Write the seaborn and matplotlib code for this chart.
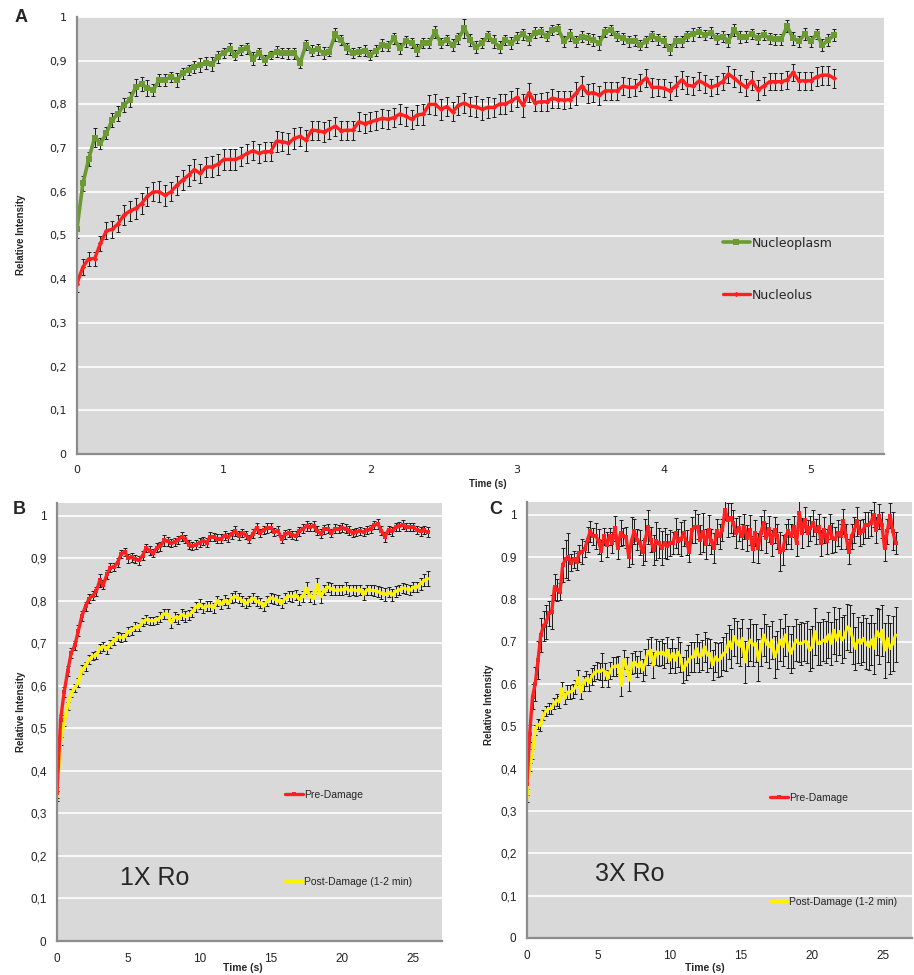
import numpy as np
import matplotlib
matplotlib.use("Agg")
import matplotlib.pyplot as plt
import seaborn as sns

# ---------------- data ----------------
# Panel A: FRAP nucleoplasm / nucleolus, 130 samples from 0 to 5.16 s
a_t_end = 5.16
a_nucleoplasm = [
    0.516, 0.619, 0.675, 0.724, 0.711, 0.734, 0.764, 0.779, 0.798, 0.811,
    0.839, 0.847, 0.837, 0.833, 0.856, 0.856, 0.863, 0.856, 0.871, 0.879,
    0.886, 0.890, 0.894, 0.892, 0.909, 0.918, 0.926, 0.913, 0.924, 0.928,
    0.905, 0.917, 0.902, 0.913, 0.921, 0.918, 0.917, 0.917, 0.895, 0.936,
    0.923, 0.926, 0.918, 0.921, 0.960, 0.947, 0.928, 0.918, 0.921, 0.923,
    0.913, 0.923, 0.936, 0.934, 0.951, 0.928, 0.944, 0.941, 0.924, 0.940,
    0.940, 0.966, 0.940, 0.947, 0.936, 0.951, 0.974, 0.947, 0.931, 0.940,
    0.956, 0.944, 0.931, 0.947, 0.940, 0.953, 0.960, 0.949, 0.964, 0.966,
    0.956, 0.970, 0.972, 0.944, 0.959, 0.944, 0.955, 0.951, 0.947, 0.940,
    0.966, 0.970, 0.956, 0.951, 0.944, 0.946, 0.936, 0.944, 0.956, 0.949,
    0.944, 0.926, 0.944, 0.944, 0.956, 0.960, 0.966, 0.959, 0.964, 0.951,
    0.955, 0.946, 0.970, 0.955, 0.955, 0.961, 0.951, 0.959, 0.951, 0.949,
    0.949, 0.979, 0.951, 0.944, 0.961, 0.944, 0.961, 0.936, 0.947, 0.959]
a_nucleoplasm_err = [
    0.022, 0.018, 0.016, 0.022, 0.012, 0.014, 0.016, 0.018, 0.016, 0.018,
    0.020, 0.016, 0.018, 0.014, 0.014, 0.014, 0.012, 0.016, 0.012, 0.012,
    0.014, 0.016, 0.014, 0.016, 0.014, 0.012, 0.014, 0.012, 0.012, 0.012,
    0.014, 0.012, 0.012, 0.010, 0.012, 0.012, 0.012, 0.012, 0.012, 0.012,
    0.012, 0.012, 0.014, 0.010, 0.014, 0.012, 0.012, 0.012, 0.010, 0.012,
    0.012, 0.012, 0.014, 0.012, 0.012, 0.012, 0.012, 0.012, 0.014, 0.012,
    0.012, 0.014, 0.012, 0.012, 0.014, 0.012, 0.022, 0.014, 0.014, 0.012,
    0.012, 0.014, 0.014, 0.012, 0.014, 0.012, 0.012, 0.014, 0.012, 0.012,
    0.012, 0.012, 0.012, 0.012, 0.014, 0.012, 0.012, 0.012, 0.014, 0.016,
    0.012, 0.012, 0.012, 0.012, 0.012, 0.012, 0.012, 0.012, 0.012, 0.012,
    0.012, 0.012, 0.012, 0.012, 0.012, 0.014, 0.012, 0.012, 0.012, 0.012,
    0.012, 0.014, 0.014, 0.014, 0.012, 0.012, 0.012, 0.012, 0.012, 0.012,
    0.012, 0.014, 0.014, 0.012, 0.014, 0.012, 0.012, 0.014, 0.014, 0.014]
a_nucleolus = [
    0.390, 0.428, 0.447, 0.447, 0.482, 0.511, 0.514, 0.527, 0.547, 0.556,
    0.562, 0.573, 0.590, 0.600, 0.600, 0.592, 0.600, 0.615, 0.627, 0.638,
    0.651, 0.642, 0.657, 0.657, 0.663, 0.674, 0.674, 0.674, 0.680, 0.688,
    0.694, 0.688, 0.692, 0.692, 0.716, 0.715, 0.711, 0.722, 0.727, 0.718,
    0.741, 0.740, 0.737, 0.743, 0.750, 0.740, 0.741, 0.741, 0.760, 0.756,
    0.760, 0.764, 0.768, 0.766, 0.770, 0.778, 0.773, 0.766, 0.776, 0.778,
    0.800, 0.800, 0.789, 0.795, 0.783, 0.798, 0.803, 0.796, 0.795, 0.789,
    0.793, 0.793, 0.801, 0.801, 0.808, 0.816, 0.798, 0.827, 0.804, 0.806,
    0.806, 0.814, 0.811, 0.810, 0.811, 0.825, 0.842, 0.825, 0.827, 0.821,
    0.831, 0.831, 0.831, 0.842, 0.839, 0.839, 0.850, 0.860, 0.839, 0.839,
    0.837, 0.831, 0.842, 0.856, 0.844, 0.842, 0.854, 0.847, 0.839, 0.844,
    0.852, 0.869, 0.860, 0.848, 0.839, 0.854, 0.833, 0.842, 0.852, 0.852,
    0.852, 0.856, 0.873, 0.854, 0.854, 0.854, 0.863, 0.867, 0.867, 0.860]
a_nucleolus_err = [
    0.020, 0.018, 0.016, 0.016, 0.018, 0.020, 0.020, 0.020, 0.022, 0.022,
    0.024, 0.024, 0.022, 0.022, 0.024, 0.024, 0.022, 0.022, 0.024, 0.024,
    0.024, 0.022, 0.022, 0.024, 0.024, 0.024, 0.024, 0.024, 0.022, 0.022,
    0.022, 0.022, 0.022, 0.022, 0.024, 0.022, 0.024, 0.024, 0.022, 0.024,
    0.022, 0.022, 0.022, 0.022, 0.022, 0.022, 0.022, 0.022, 0.022, 0.022,
    0.022, 0.022, 0.022, 0.022, 0.022, 0.022, 0.022, 0.022, 0.022, 0.024,
    0.022, 0.024, 0.024, 0.022, 0.022, 0.022, 0.022, 0.022, 0.024, 0.024,
    0.024, 0.022, 0.022, 0.022, 0.022, 0.022, 0.026, 0.022, 0.020, 0.020,
    0.022, 0.022, 0.020, 0.020, 0.020, 0.026, 0.022, 0.022, 0.022, 0.022,
    0.020, 0.020, 0.020, 0.020, 0.022, 0.020, 0.020, 0.020, 0.022, 0.020,
    0.020, 0.020, 0.022, 0.020, 0.020, 0.020, 0.020, 0.020, 0.020, 0.020,
    0.020, 0.020, 0.020, 0.020, 0.020, 0.022, 0.022, 0.020, 0.020, 0.020,
    0.020, 0.020, 0.020, 0.020, 0.020, 0.020, 0.022, 0.022, 0.022, 0.022]

# Panel B: 1X Ro, 105 samples from 0 to 26 s
b_t_end = 26.0
b_pre = [
    0.349, 0.520, 0.585, 0.635, 0.678, 0.695, 0.730, 0.765, 0.787, 0.805,
    0.812, 0.822, 0.848, 0.838, 0.862, 0.878, 0.880, 0.890, 0.910, 0.915,
    0.900, 0.902, 0.898, 0.895, 0.906, 0.924, 0.918, 0.912, 0.925, 0.928,
    0.942, 0.940, 0.936, 0.938, 0.943, 0.951, 0.945, 0.932, 0.929, 0.932,
    0.937, 0.941, 0.937, 0.951, 0.950, 0.946, 0.946, 0.953, 0.949, 0.956,
    0.964, 0.953, 0.960, 0.955, 0.945, 0.958, 0.972, 0.960, 0.966, 0.972,
    0.972, 0.962, 0.965, 0.945, 0.956, 0.960, 0.955, 0.953, 0.963, 0.970,
    0.975, 0.974, 0.976, 0.965, 0.958, 0.968, 0.970, 0.960, 0.970, 0.969,
    0.972, 0.970, 0.965, 0.960, 0.962, 0.964, 0.962, 0.966, 0.969, 0.978,
    0.981, 0.965, 0.950, 0.967, 0.963, 0.973, 0.975, 0.979, 0.973, 0.973,
    0.973, 0.966, 0.963, 0.966, 0.961]
b_pre_err = [
    0.012, 0.012, 0.012, 0.012, 0.012, 0.010, 0.012, 0.012, 0.010, 0.010,
    0.010, 0.010, 0.016, 0.010, 0.010, 0.010, 0.010, 0.010, 0.010, 0.010,
    0.010, 0.010, 0.010, 0.010, 0.010, 0.010, 0.010, 0.010, 0.010, 0.010,
    0.012, 0.010, 0.010, 0.010, 0.010, 0.010, 0.010, 0.010, 0.010, 0.010,
    0.010, 0.010, 0.010, 0.010, 0.010, 0.010, 0.010, 0.010, 0.010, 0.010,
    0.012, 0.010, 0.010, 0.010, 0.010, 0.010, 0.012, 0.010, 0.010, 0.012,
    0.010, 0.010, 0.010, 0.010, 0.010, 0.010, 0.010, 0.010, 0.010, 0.010,
    0.012, 0.010, 0.012, 0.010, 0.010, 0.010, 0.010, 0.010, 0.010, 0.010,
    0.010, 0.010, 0.010, 0.010, 0.010, 0.010, 0.010, 0.010, 0.010, 0.010,
    0.012, 0.010, 0.012, 0.010, 0.010, 0.010, 0.010, 0.010, 0.010, 0.010,
    0.010, 0.010, 0.010, 0.010, 0.012]
b_post = [
    0.341, 0.470, 0.515, 0.553, 0.583, 0.595, 0.608, 0.638, 0.646, 0.662,
    0.670, 0.672, 0.688, 0.693, 0.686, 0.699, 0.706, 0.716, 0.714, 0.715,
    0.728, 0.730, 0.739, 0.738, 0.750, 0.756, 0.753, 0.753, 0.755, 0.761,
    0.769, 0.769, 0.748, 0.762, 0.758, 0.768, 0.763, 0.766, 0.774, 0.786,
    0.792, 0.784, 0.787, 0.788, 0.784, 0.800, 0.792, 0.801, 0.794, 0.806,
    0.810, 0.806, 0.800, 0.794, 0.800, 0.806, 0.799, 0.795, 0.788, 0.800,
    0.807, 0.804, 0.801, 0.794, 0.806, 0.811, 0.810, 0.814, 0.803, 0.810,
    0.830, 0.810, 0.805, 0.838, 0.810, 0.825, 0.832, 0.828, 0.825, 0.825,
    0.826, 0.830, 0.824, 0.826, 0.824, 0.826, 0.815, 0.826, 0.825, 0.824,
    0.822, 0.818, 0.815, 0.820, 0.814, 0.822, 0.825, 0.830, 0.828, 0.825,
    0.832, 0.832, 0.840, 0.848, 0.852]
b_post_err = [
    0.012, 0.010, 0.010, 0.010, 0.010, 0.010, 0.010, 0.010, 0.010, 0.010,
    0.010, 0.010, 0.010, 0.010, 0.010, 0.010, 0.010, 0.010, 0.010, 0.010,
    0.010, 0.010, 0.010, 0.010, 0.010, 0.010, 0.010, 0.010, 0.010, 0.012,
    0.012, 0.012, 0.012, 0.012, 0.012, 0.012, 0.012, 0.012, 0.012, 0.012,
    0.012, 0.012, 0.012, 0.012, 0.012, 0.012, 0.012, 0.012, 0.012, 0.012,
    0.012, 0.012, 0.012, 0.012, 0.012, 0.012, 0.012, 0.012, 0.012, 0.012,
    0.012, 0.012, 0.012, 0.012, 0.012, 0.012, 0.012, 0.012, 0.012, 0.012,
    0.014, 0.012, 0.012, 0.016, 0.014, 0.012, 0.012, 0.014, 0.012, 0.012,
    0.012, 0.014, 0.012, 0.012, 0.012, 0.012, 0.014, 0.012, 0.012, 0.012,
    0.012, 0.014, 0.016, 0.012, 0.014, 0.012, 0.012, 0.012, 0.012, 0.012,
    0.012, 0.012, 0.014, 0.014, 0.018]

# Panel C: 3X Ro, samples from 0 to 25.85 s
c_t_end = 25.85
c_pre = [
    0.364, 0.483, 0.570, 0.601, 0.656, 0.716, 0.737, 0.747, 0.767, 0.771,
    0.829, 0.822, 0.818, 0.882, 0.895, 0.901, 0.887, 0.895, 0.889, 0.909,
    0.913, 0.919, 0.941, 0.961, 0.949, 0.950, 0.937, 0.915, 0.949, 0.929,
    0.949, 0.934, 0.968, 0.921, 0.957, 0.949, 0.947, 0.901, 0.939, 0.961,
    0.941, 0.934, 0.911, 0.941, 0.971, 0.941, 0.917, 0.937, 0.933, 0.921,
    0.933, 0.925, 0.933, 0.933, 0.957, 0.937, 0.942, 0.957, 0.934, 0.913,
    0.964, 0.972, 0.972, 0.941, 0.958, 0.931, 0.964, 0.937, 0.921, 0.961,
    0.949, 0.964, 1.012, 0.988, 0.992, 0.980, 0.957, 0.968, 0.949, 0.972,
    0.945, 0.964, 0.919, 0.957, 0.921, 0.957, 0.980, 0.945, 0.966, 0.933,
    0.964, 0.949, 0.913, 0.917, 0.949, 0.961, 0.949, 0.972, 0.933, 1.004,
    0.957, 0.988, 0.957, 0.968, 0.980, 0.961, 0.972, 0.933, 0.964, 0.937,
    0.972, 0.945, 0.942, 0.957, 0.949, 0.984, 0.949, 0.913, 0.949, 0.964,
    0.984, 0.957, 0.961, 0.976, 0.976, 0.980, 1.000, 0.964, 0.996, 0.976,
    0.921, 0.961, 0.998, 0.961, 0.933]
c_pre_err = [
    0.012, 0.020, 0.030, 0.040, 0.045, 0.040, 0.035, 0.040, 0.030, 0.040,
    0.030, 0.025, 0.020, 0.040, 0.045, 0.055, 0.020, 0.020, 0.020, 0.020,
    0.030, 0.020, 0.030, 0.025, 0.020, 0.030, 0.030, 0.025, 0.020, 0.030,
    0.020, 0.025, 0.030, 0.025, 0.030, 0.020, 0.025, 0.025, 0.055, 0.030,
    0.025, 0.030, 0.030, 0.050, 0.040, 0.030, 0.035, 0.045, 0.035, 0.040,
    0.035, 0.030, 0.030, 0.025, 0.035, 0.030, 0.040, 0.030, 0.030, 0.025,
    0.030, 0.040, 0.030, 0.035, 0.045, 0.035, 0.035, 0.030, 0.035, 0.030,
    0.030, 0.025, 0.025, 0.040, 0.035, 0.030, 0.035, 0.030, 0.030, 0.030,
    0.030, 0.035, 0.030, 0.030, 0.035, 0.040, 0.030, 0.035, 0.030, 0.030,
    0.030, 0.030, 0.045, 0.035, 0.030, 0.030, 0.030, 0.025, 0.030, 0.030,
    0.035, 0.030, 0.030, 0.030, 0.030, 0.030, 0.030, 0.030, 0.030, 0.030,
    0.030, 0.035, 0.030, 0.030, 0.030, 0.030, 0.030, 0.030, 0.030, 0.030,
    0.035, 0.030, 0.030, 0.030, 0.030, 0.030, 0.030, 0.030, 0.030, 0.030,
    0.030, 0.030, 0.030, 0.045, 0.025]
c_post = [
    0.329, 0.404, 0.435, 0.491, 0.505, 0.502, 0.526, 0.536, 0.542, 0.542,
    0.554, 0.562, 0.558, 0.589, 0.566, 0.581, 0.581, 0.584, 0.593, 0.615,
    0.581, 0.601, 0.613, 0.603, 0.617, 0.626, 0.631, 0.629, 0.634, 0.629,
    0.613, 0.633, 0.641, 0.641, 0.645, 0.597, 0.658, 0.641, 0.609, 0.648,
    0.652, 0.641, 0.652, 0.633, 0.652, 0.676, 0.680, 0.645, 0.676, 0.672,
    0.676, 0.668, 0.680, 0.656, 0.672, 0.656, 0.676, 0.664, 0.633, 0.645,
    0.656, 0.664, 0.664, 0.684, 0.664, 0.668, 0.688, 0.668, 0.672, 0.645,
    0.664, 0.656, 0.660, 0.672, 0.676, 0.700, 0.684, 0.712, 0.700, 0.688,
    0.708, 0.652, 0.688, 0.704, 0.692, 0.696, 0.656, 0.688, 0.716, 0.696,
    0.688, 0.704, 0.664, 0.680, 0.704, 0.688, 0.716, 0.688, 0.672, 0.688,
    0.704, 0.696, 0.696, 0.700, 0.700, 0.680, 0.688, 0.724, 0.696, 0.696,
    0.704, 0.700, 0.716, 0.696, 0.727, 0.704, 0.724, 0.704, 0.712, 0.735,
    0.731, 0.708, 0.684, 0.704, 0.696, 0.708, 0.696, 0.688, 0.704, 0.684,
    0.724, 0.712, 0.727, 0.680, 0.708, 0.684, 0.696, 0.716]
c_post_err = [
    0.008, 0.010, 0.012, 0.012, 0.012, 0.012, 0.012, 0.012, 0.014, 0.014,
    0.014, 0.014, 0.014, 0.016, 0.014, 0.016, 0.016, 0.016, 0.016, 0.018,
    0.016, 0.018, 0.018, 0.020, 0.020, 0.018, 0.020, 0.020, 0.040, 0.020,
    0.020, 0.020, 0.022, 0.022, 0.022, 0.025, 0.022, 0.022, 0.025, 0.025,
    0.025, 0.025, 0.025, 0.025, 0.030, 0.030, 0.030, 0.030, 0.030, 0.030,
    0.030, 0.030, 0.030, 0.030, 0.035, 0.030, 0.035, 0.035, 0.030, 0.035,
    0.035, 0.035, 0.035, 0.035, 0.035, 0.035, 0.035, 0.040, 0.035, 0.035,
    0.035, 0.040, 0.040, 0.040, 0.045, 0.040, 0.045, 0.045, 0.050, 0.045,
    0.045, 0.050, 0.045, 0.050, 0.050, 0.045, 0.050, 0.045, 0.050, 0.045,
    0.050, 0.045, 0.050, 0.045, 0.050, 0.045, 0.050, 0.050, 0.045, 0.050,
    0.050, 0.045, 0.050, 0.045, 0.050, 0.050, 0.050, 0.055, 0.050, 0.050,
    0.050, 0.050, 0.055, 0.050, 0.055, 0.050, 0.055, 0.055, 0.050, 0.055,
    0.055, 0.060, 0.050, 0.055, 0.050, 0.055, 0.060, 0.055, 0.060, 0.060,
    0.055, 0.065, 0.060, 0.065, 0.055, 0.060, 0.065, 0.065]

yticks = [0, 0.1, 0.2, 0.3, 0.4, 0.5, 0.6, 0.7, 0.8, 0.9, 1.0]
ylabels_comma = ["0", "0,1", "0,2", "0,3", "0,4", "0,5", "0,6", "0,7", "0,8", "0,9", "1"]
ylabels_c = ["0", "0,1", "0,2", "0,3", "0,4", "0.5", "0.6", "0.7", "0.8", "0.9", "1"]
a_xticks = [0, 1, 2, 3, 4, 5]
bc_xticks = [0, 5, 10, 15, 20, 25]

GREEN = "#6B9A32"
RED = "#FF2020"
YELLOW = "#FFF200"
BG = "#D9D9D9"
SPINE = "#8C8C8C"

# ---------------- figure ----------------
sns.set_style("white")
plt.rcParams["font.family"] = ["Liberation Sans", "DejaVu Sans"]

W, H = 914, 975
fig = plt.figure(figsize=(W / 100, H / 100), dpi=100)


def px_axes(left, top, right, bottom):
    return fig.add_axes([left / W, 1 - bottom / H, (right - left) / W, (bottom - top) / H])


def style_axes(ax, xlim, ylim, xticks, ylabels, tsize, tfont, xdir, xpad):
    ax.set_facecolor(BG)
    ax.set_xlim(*xlim)
    ax.set_ylim(*ylim)
    ax.set_yticks(yticks)
    ax.set_yticklabels(ylabels)
    ax.set_xticks(xticks)
    ax.set_xticklabels([str(x) for x in xticks])
    ax.yaxis.grid(True, color="white", lw=1.2)
    ax.xaxis.grid(False)
    ax.set_axisbelow(True)
    for s in ["top", "right"]:
        ax.spines[s].set_visible(False)
    for s in ["left", "bottom"]:
        ax.spines[s].set_color(SPINE)
        ax.spines[s].set_linewidth(1.6)
        ax.spines[s].set_zorder(5)
    ax.tick_params(axis="y", direction="out", length=4.5, width=1, color=SPINE,
                   labelsize=tsize, pad=3, colors="#222222")
    ax.tick_params(axis="x", direction=xdir, length=5, width=1, color=SPINE,
                   labelsize=tsize, pad=xpad, colors="#222222")
    for lab in ax.get_xticklabels() + ax.get_yticklabels():
        lab.set_family(tfont)
    ax.set_xlabel("")
    ax.set_ylabel("")


def draw_series(ax, t, y, err, color, marker, ms, lw, label):
    ax.errorbar(t, y, yerr=err, fmt="none", ecolor="#1A1A1A", elinewidth=0.7,
                capsize=1.6, capthick=0.7, zorder=3)
    sns.lineplot(x=t, y=y, ax=ax, color=color, lw=lw, marker=marker, markersize=ms,
                 markeredgewidth=0, label=label, zorder=4, sort=False, estimator=None)


# ---- panel A ----
axA = px_axes(77, 17, 884, 454)
tA = np.linspace(0, a_t_end, len(a_nucleoplasm))
draw_series(axA, tA, a_nucleoplasm, a_nucleoplasm_err, GREEN, "s", 4.5, 2.6, "Nucleoplasm")
draw_series(axA, tA, a_nucleolus, a_nucleolus_err, RED, "D", 2.8, 2.4, "Nucleolus")
style_axes(axA, (0, 5.5), (0, 1.0), a_xticks, ylabels_comma, 8, "DejaVu Sans", "out", 3)
axA.legend(loc="center left", bbox_to_anchor=(0.80, 0.423), frameon=False,
           prop={"family": "DejaVu Sans", "size": 9}, labelspacing=3.1,
           handlelength=2.2, handletextpad=0.15, borderpad=0, borderaxespad=0)

# ---- panel B ----
axB = px_axes(57, 503, 442, 941)
tB = np.linspace(0, b_t_end, len(b_pre))
draw_series(axB, tB, b_post, b_post_err, YELLOW, None, 0, 2.4, "Post-Damage (1-2 min)")
draw_series(axB, tB, b_pre, b_pre_err, RED, "s", 3.5, 2.4, "Pre-Damage")
style_axes(axB, (0, 27), (0, 1.03), bc_xticks, ylabels_comma, 8.5, "Liberation Sans", "inout", 6)
h, l = axB.get_legend_handles_labels()
axB.legend(h[::-1], l[::-1], loc="center left", bbox_to_anchor=(0.592, 0.235), frameon=False,
           fontsize=7.5, labelspacing=7.4, handlelength=1.75, handletextpad=0.1,
           borderpad=0, borderaxespad=0)

# ---- panel C ----
axC = px_axes(527, 502, 912, 938)
tC_pre = np.linspace(0, c_t_end, len(c_pre))
tC_post = np.linspace(0, c_t_end, len(c_post))
draw_series(axC, tC_post, c_post, c_post_err, YELLOW, None, 0, 2.2, "Post-Damage (1-2 min)")
draw_series(axC, tC_pre, c_pre, c_pre_err, RED, "s", 3.5, 2.4, "Pre-Damage")
style_axes(axC, (0, 27), (0, 1.03), bc_xticks, ylabels_c, 8.5, "Liberation Sans", "inout", 6)
h, l = axC.get_legend_handles_labels()
axC.legend(h[::-1], l[::-1], loc="center left", bbox_to_anchor=(0.631, 0.202), frameon=False,
           fontsize=7.5, labelspacing=9.0, handlelength=1.75, handletextpad=0.1,
           borderpad=0, borderaxespad=0)


# ---- free text placed in pixel coords ----
def ptext(x, y, s, **kw):
    fig.text(x / W, 1 - y / H, s, ha=kw.pop("ha", "center"), va=kw.pop("va", "center"), **kw)


ptext(21, 18, "A", fontsize=13, fontweight="bold")
ptext(19, 510, "B", fontsize=13, fontweight="bold")
ptext(496, 509, "C", fontsize=13, fontweight="bold")
ptext(21, 235, "Relative Intensity", fontsize=7, fontweight="bold", rotation=90)
ptext(21, 712, "Relative Intensity", fontsize=7, fontweight="bold", rotation=90)
ptext(489, 705, "Relative Intensity", fontsize=7, fontweight="bold", rotation=90)
ptext(488, 484, "Time (s)", fontsize=7, fontweight="bold")
ptext(243, 968, "Time (s)", fontsize=7.5, fontweight="bold")
ptext(705, 968, "Time (s)", fontsize=7.5, fontweight="bold")
ptext(155, 878, "1X Ro", fontsize=18)
ptext(630, 874, "3X Ro", fontsize=18)

fig.savefig("out.png", dpi=100, facecolor="white")
